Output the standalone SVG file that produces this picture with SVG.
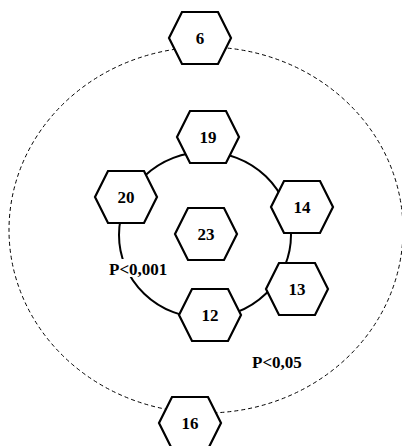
<svg xmlns="http://www.w3.org/2000/svg" width="402" height="446" viewBox="0 0 402 446">
<defs>
<style>
.hex{fill:#fff;stroke:#000;stroke-width:2.2;stroke-linejoin:miter}
.lbl{font-family:"Liberation Serif","Times New Roman",serif;font-weight:bold;font-size:17px;fill:#000;text-anchor:middle}
.plbl{font-family:"Liberation Serif","Times New Roman",serif;font-weight:bold;font-size:17px;fill:#000}
.dash{fill:none;stroke:#000;stroke-width:1;stroke-dasharray:4,3}
.solid{fill:none;stroke:#000;stroke-width:2}
</style>
<polygon id="hexshape" points="-31,0 -18,-26 18,-26 31,0 18,26 -18,26"/>
</defs>
<rect width="402" height="446" fill="#fff"/>
<g id="connectors">
<ellipse class="dash" cx="206" cy="230" rx="197" ry="183"/>
<ellipse class="solid" cx="205" cy="235" rx="86" ry="83"/>
</g>
<g id="label-p001">
<rect x="106" y="259" width="66" height="18" fill="#fff"/>
<text class="plbl" x="109" y="275">P&lt;0,001</text>
</g>
<g id="label-p005">
<text class="plbl" x="252" y="368">P&lt;0,05</text>
</g>
<g id="n6"><use href="#hexshape" class="hex" transform="translate(200,38)"/><text class="lbl" x="200" y="44">6</text></g>
<g id="n19"><use href="#hexshape" class="hex" transform="translate(208,137)"/><text class="lbl" x="208" y="143">19</text></g>
<g id="n20"><use href="#hexshape" class="hex" transform="translate(126,197)"/><text class="lbl" x="126" y="203">20</text></g>
<g id="n23"><use href="#hexshape" class="hex" transform="translate(206,234)"/><text class="lbl" x="206" y="240">23</text></g>
<g id="n14"><use href="#hexshape" class="hex" transform="translate(302,207)"/><text class="lbl" x="302" y="213">14</text></g>
<g id="n13"><use href="#hexshape" class="hex" transform="translate(297,289)"/><text class="lbl" x="297" y="295">13</text></g>
<g id="n12"><use href="#hexshape" class="hex" transform="translate(210,315)"/><text class="lbl" x="210" y="321">12</text></g>
<g id="n16"><use href="#hexshape" class="hex" transform="translate(190,423)"/><text class="lbl" x="190" y="429">16</text></g>
</svg>
